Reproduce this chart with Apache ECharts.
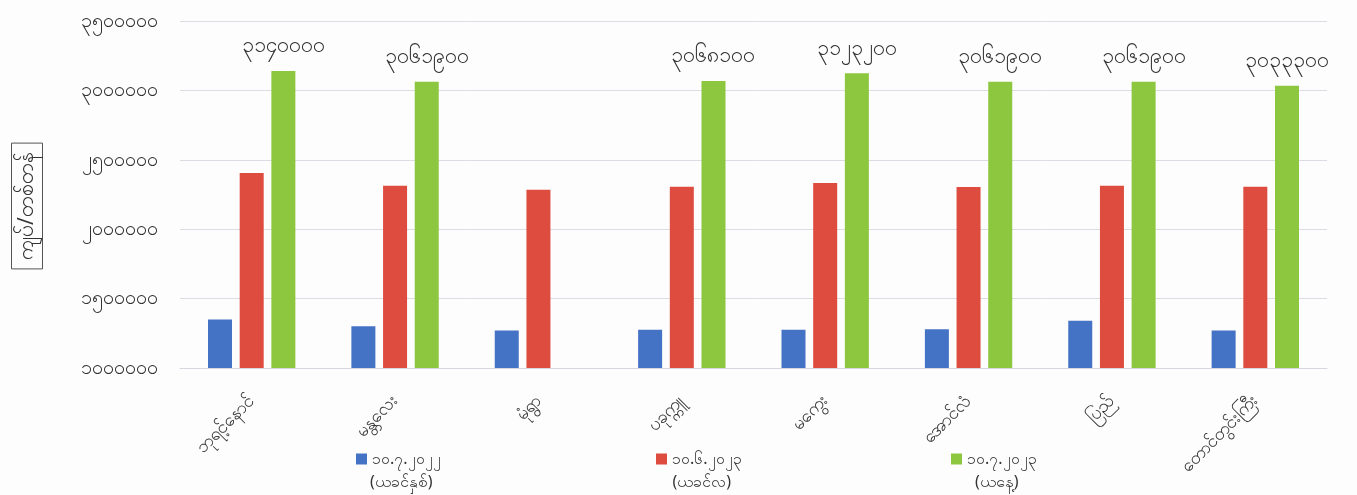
<!DOCTYPE html>
<html>
<head>
<meta charset="utf-8">
<script src="https://cdn.jsdelivr.net/npm/echarts@6/dist/echarts.min.js"></script>
<style>
html,body{margin:0;padding:0;background:#fdfdfd;}
#c{width:1357px;height:495px;}
</style>
</head>
<body>
<div id="c"></div>
<script>
var categories = ['ဘုရင့်နောင်', 'မန္တလေး', 'မုံရွာ', 'ပခုက္ကူ', 'မကွေး', 'အောင်လံ', 'ပြည်', 'တောင်တွင်းကြီး'];
var seriesNames = ['၁၀.၇.၂၀၂၂', '၁၀.၆.၂၀၂၃', '၁၀.၇.၂၀၂၃'];
var seriesNotes = ['(ယခင်နှစ်)', '(ယခင်လ)', '(ယနေ့)'];
var prevYear = [1350000, 1300000, 1270000, 1275000, 1275000, 1280000, 1340000, 1270000];
var prevMonth = [2405000, 2313000, 2284000, 2306000, 2333000, 2304000, 2313000, 2306000];
var today = [3140000, 3061900, null, 3068100, 3123200, 3061900, 3061900, 3033300];
var yTicks = {min: 1000000, max: 3500000, interval: 500000};
var yTitle = 'ကျပ်/တစ်တန်';

function toMy(n) {
  return String(n).replace(/\d/g, function (d) { return String.fromCharCode(0x1040 + Number(d)); });
}

var FONT = "'Noto Sans', 'DejaVu Sans', sans-serif";
var colors = ['#4472C4', '#DE4B3F', '#8DC63F'];
var LEG_FS = 16;

var ctx = document.createElement('canvas').getContext('2d');
ctx.font = LEG_FS + 'px ' + FONT;

var chart = echarts.init(document.getElementById('c'));
var legendPos = [351, 651, 946];
var legendTop = 446;
var textStart = 16; // icon width + gap

var graphics = seriesNotes.map(function (t, i) {
  var w = ctx.measureText(seriesNames[i]).width;
  return {
    type: 'text',
    x: legendPos[i] + textStart + w / 2, y: 482,
    style: {text: t, textAlign: 'center', textVerticalAlign: 'middle', fontSize: LEG_FS, fill: '#333', fontFamily: FONT}
  };
});
graphics.push({
  type: 'text', x: 27, y: 206, rotation: Math.PI / 2,
  style: {text: yTitle, textAlign: 'center', textVerticalAlign: 'middle', fontSize: 21, fill: '#333', fontFamily: FONT,
          borderColor: '#555', borderWidth: 1, padding: [5, 9, 5, 9]}
});

chart.setOption({
  animation: false,
  backgroundColor: '#fdfdfd',
  color: colors,
  textStyle: {fontFamily: FONT},
  grid: {left: 180, right: 30, top: 21, bottom: 127, outerBoundsMode: 'none', containLabel: false},
  legend: seriesNames.map(function (n, i) {
    return {
      data: [n], left: legendPos[i], top: legendTop, icon: 'rect',
      itemWidth: 11, itemHeight: 11, itemGap: 0,
      textStyle: {fontSize: LEG_FS, color: '#333', fontFamily: FONT}
    };
  }),
  graphic: graphics,
  xAxis: {
    type: 'category', data: categories,
    axisLine: {show: true, lineStyle: {color: '#d6d6e0'}},
    axisTick: {show: false},
    axisLabel: {rotate: 45, fontSize: 18, color: '#333', margin: 30, interval: 0, fontFamily: FONT}
  },
  yAxis: {
    type: 'value', min: yTicks.min, max: yTicks.max, interval: yTicks.interval,
    axisLine: {show: false}, axisTick: {show: false},
    splitLine: {lineStyle: {color: '#dcdce4'}},
    axisLabel: {fontSize: 20, color: '#333', margin: 22, fontFamily: FONT, formatter: function (v) { return toMy(v); }}
  },
  series: [
    {name: seriesNames[0], type: 'bar', data: prevYear, barWidth: 24, barGap: '32%'},
    {name: seriesNames[1], type: 'bar', data: prevMonth, barWidth: 24, barGap: '32%'},
    {name: seriesNames[2], type: 'bar', data: today, barWidth: 24, barGap: '32%',
     label: {show: true, position: 'top', distance: 14, fontSize: 21, color: '#333', fontFamily: FONT,
             formatter: function (p) { return toMy(p.value); }}}
  ]
});
</script>
</body>
</html>
